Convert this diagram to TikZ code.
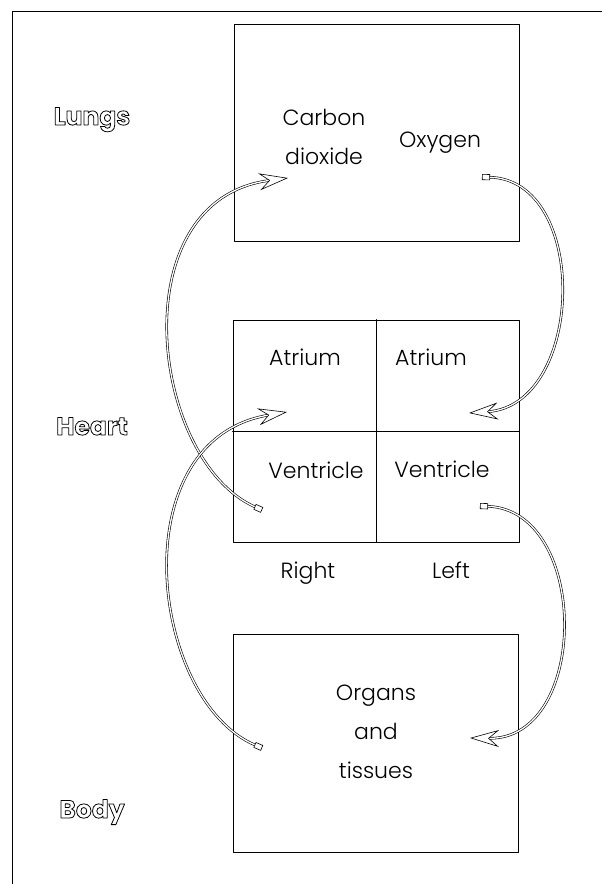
\documentclass[tikz,border=0pt]{standalone}
\usepackage{fontspec}
\setmainfont{Poppins}[UprightFont=* Light, BoldFont=* Bold]
\usetikzlibrary{arrows.meta}
% hollow letters: stroke only
\newcommand{\hollow}[1]{\special{pdf:literal 1 Tr 0.8 w}#1\special{pdf:literal 0 Tr}}

\begin{document}
\begin{tikzpicture}[x=1pt, y=-1pt, line join=round, line cap=round,
	font=\fontsize{22}{39}\selectfont,
	box/.style={draw, line width=.9pt, inner sep=0pt},
	tube/.style={line width=.6pt, double=white, double distance=1.3pt,
		{Square[length=8pt,width=6pt,fill=white,line width=.6pt]}-{Stealth[length=29pt,width=17pt,inset=10pt,fill=white,line width=.6pt]}},
	region/.style={font=\fontsize{25}{28}\selectfont\bfseries, anchor=base}]
	\useasboundingbox (0,0) rectangle (602,884);
	\draw[line width=.8pt] (12,884) -- (12,11) -- (602,11);
	%boxes
	\node[box, minimum width=285pt, minimum height=217pt] (lungs) at (376.5,132.5) {};
	\node[box, minimum width=286pt, minimum height=222pt] (heart) at (376,431) {};
	\node[box, minimum width=285pt, minimum height=218pt] (body) at (375.5,743) {};
	\draw[line width=.9pt] (heart.north) -- (heart.south) (heart.west) -- (heart.east);
	%texts
	\foreach \name/\y in {Lungs/125,Heart/435,Body/818}
		\node[region] (\name) at (92,\y) {\hollow{\name}};
	\node[align=center] (co2) at (324,137) {Carbon\\dioxide};
	\node[anchor=base] (o2) at (440,147) {Oxygen};
	\node[anchor=base] (ra) at (305,365) {Atrium};
	\node[anchor=base] (la) at (431,365) {Atrium};
	\node[anchor=base] (rv) at (316,478) {Ventricle};
	\node[anchor=base] (lv) at (442,477) {Ventricle};
	\node[anchor=base] (right) at (308,578) {Right};
	\node[anchor=base] (left) at (451,578) {Left};
	\node[align=center] (tissue) at (376,732) {Organs\\and\\tissues};
	%ends of the vessels
	\coordinate (oxyOut) at (482,177);
	\coordinate (laIn) at (469,413);
	\coordinate (lvOut) at (480,506);
	\coordinate (bodyIn) at (470,738);
	\coordinate (rvOut) at (262,510);
	\coordinate (co2In) at (288,178);
	\coordinate (bodyOut) at (262,748);
	\coordinate (raIn) at (287,412);
	\draw[tube] (oxyOut) .. controls +(108,3) and +(116,-8) .. (laIn);
	\draw[tube] (lvOut) .. controls +(110,4) and +(120,2) .. (bodyIn);
	\draw[tube] (rvOut) .. controls +(-112,-50) and +(-168,22) .. (co2In);
	\draw[tube] (bodyOut) .. controls +(-112,-48) and +(-167,28) .. (raIn);
\end{tikzpicture}
\end{document}
